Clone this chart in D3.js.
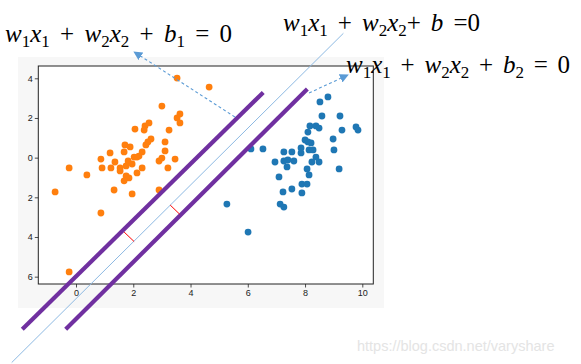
<!DOCTYPE html>
<html>
<head>
<meta charset="utf-8">
<script src="https://cdn.jsdelivr.net/npm/d3@7/dist/d3.min.js"></script>
<style>
  body { margin: 0; background: #fff; }
  svg { display: block; }
</style>
</head>
<body>
<div id="chart"></div>
<script>
// class 1 (orange) and class 2 (blue) samples
const orangeX = [3.53, 4.65, 3.00, 3.63, 3.53, 3.63, 2.06, 2.41, 2.55, 2.38, 3.25, 2.62, 2.51, 2.44, 3.11, 3.11, 1.71, 1.89, 1.19, 1.68,
                 2.31, 2.20, 2.03, 2.13, 0.87, 1.36, 1.82, 1.96, 1.75, 1.54, 1.22, 2.31, 2.90, 3.00, 3.46, 3.21, 2.13, 1.54, 0.38, 1.75,
                 1.85, 1.68, 1.33, 1.96, 2.90, -0.73, 0.87, -0.24, -0.24, 0.91];
const orangeY = [4.01, 3.56, 2.60, 2.20, 2.00, 1.75, 1.44, 1.60, 1.75, 1.39, 1.39, 0.94, 0.79, 0.64, 0.79, 0.34, 0.64, 0.54, 0.24, 0.29,
                 0.29, 0.08, 0.03, 0.03, -0.07, -0.22, -0.17, -0.32, -0.42, -0.52, -0.52, -0.52, -0.17, -0.02, -0.07, -0.52, -0.77, -0.67, -0.87, -0.92,
                 -1.02, -1.17, -1.63, -1.83, -1.63, -1.73, -2.79, -5.76, -0.52, -0.52];
const blueX = [8.52, 8.80, 8.59, 9.22, 8.17, 8.38, 8.49, 9.29, 9.78, 9.85, 8.10, 8.98, 8.00, 8.10, 8.21, 7.86, 8.14, 8.28, 9.01, 7.86,
               6.11, 6.53, 7.26, 7.54, 8.38, 7.26, 7.40, 7.61, 6.95, 8.24, 8.49, 7.37, 8.07, 9.19, 8.14, 7.09, 7.89, 8.07, 7.54, 7.23,
               7.89, 7.13, 7.26, 5.27, 6.01];
const blueY = [2.81, 3.06, 2.10, 2.10, 1.60, 1.60, 1.49, 1.39, 1.55, 1.39, 1.29, 0.94, 0.89, 0.79, 0.74, 0.49, 0.39, 0.39, 0.39, 0.24,
               0.44, 0.44, 0.29, 0.29, 0.03, -0.17, -0.12, -0.17, -0.22, -0.22, -0.22, -0.47, -0.57, -0.57, -0.87, -0.97, -1.33, -1.33, -1.58, -1.73,
               -1.78, -2.34, -2.49, -2.34, -3.75];
const xTicks = [0, 2, 4, 6, 8, 10];
const yTicks = [4, 2, 0, -2, -4, -6];

// hand drawn annotations, in data units: [x1, y1, x2, y2]
const marginLines = [[-1.876, -8.65, 6.54, 3.29], [-0.36, -8.65, 8.08, 3.46]];
const hyperplane = [-2.246, -10.33, 9.34, 6.27];
const gapMarks = [[1.68, -3.75, 2.03, -4.23], [3.29, -2.39, 3.62, -2.85]];
const arrows = [[5.55, 2.05, 2.03, 5.33], [8.14, 3.26, 9.50, 4.17]];

const W = 581, H = 364;
const svg = d3.select('#chart').append('svg').attr('width', W).attr('height', H);
svg.append('rect').attr('width', W).attr('height', H).attr('fill', '#fff');

// figure background (screenshot of the matplotlib figure)
svg.append('rect').attr('x', 18).attr('y', 57).attr('width', 366).attr('height', 251).attr('fill', '#f7f7f7');

const plot = { left: 38.3, right: 373.3, top: 66, bottom: 284 };
const x = d3.scaleLinear().domain([-1.317, 10.384]).range([plot.left, plot.right]);
const y = d3.scaleLinear().domain([4.62, -6.37]).range([plot.top, plot.bottom]);

svg.append('rect')
    .attr('x', plot.left).attr('y', plot.top)
    .attr('width', plot.right - plot.left).attr('height', plot.bottom - plot.top)
    .attr('fill', '#fff');

const pts = svg.append('g');
pts.selectAll('.o').data(orangeX.map((v, i) => [v, orangeY[i]])).join('circle')
    .attr('cx', d => x(d[0])).attr('cy', d => y(d[1])).attr('r', 3.4).attr('fill', '#ff7f0e');
pts.selectAll('.b').data(blueX.map((v, i) => [v, blueY[i]])).join('circle')
    .attr('cx', d => x(d[0])).attr('cy', d => y(d[1])).attr('r', 3.4).attr('fill', '#1f77b4');

// axes
const xAxis = d3.axisBottom(x).tickValues(xTicks).tickSize(3.5).tickPadding(2).tickFormat(d3.format('d'));
// the minus signs are missing in the original picture
const yAxis = d3.axisLeft(y).tickValues(yTicks).tickSize(3.5).tickPadding(2).tickFormat(d => Math.abs(d));
const gx = svg.append('g').attr('transform', `translate(0,${plot.bottom})`).call(xAxis);
const gy = svg.append('g').attr('transform', `translate(${plot.left},0)`).call(yAxis);
[gx, gy].forEach(g => {
    g.select('.domain').remove();
    g.selectAll('line').attr('stroke', '#222').attr('stroke-width', 0.8);
    g.selectAll('text').attr('fill', '#222').attr('font-family', 'Liberation Sans, Arial, sans-serif').attr('font-size', 9);
});
svg.append('rect')
    .attr('x', plot.left).attr('y', plot.top)
    .attr('width', plot.right - plot.left).attr('height', plot.bottom - plot.top)
    .attr('fill', 'none').attr('stroke', '#222').attr('stroke-width', 1);

// annotations
const seg = (g, s) => g.append('line')
    .attr('x1', x(s[0])).attr('y1', y(s[1])).attr('x2', x(s[2])).attr('y2', y(s[3]));

const ann = svg.append('g');
seg(ann, hyperplane).attr('stroke', '#8db9e2').attr('stroke-width', 1);
marginLines.forEach(s => seg(ann, s).attr('stroke', '#7030a0').attr('stroke-width', 4.2));
gapMarks.forEach(s => seg(ann, s).attr('stroke', '#ff0000').attr('stroke-width', 1));

svg.append('defs').append('marker')
    .attr('id', 'arr').attr('viewBox', '0 0 10 10').attr('refX', 9).attr('refY', 5)
    .attr('markerWidth', 9).attr('markerHeight', 9).attr('markerUnits', 'userSpaceOnUse')
    .attr('orient', 'auto')
    .append('path').attr('d', 'M0,0 L10,5 L0,10 Z').attr('fill', '#5b9bd5');
arrows.forEach(s => seg(ann, s)
    .attr('stroke', '#5b9bd5').attr('stroke-width', 1.1).attr('stroke-dasharray', '3,2.5')
    .attr('marker-end', 'url(#arr)'));

// formulas
const FS = 25, SUB = 17;
function formula(x0, base, parts, width) {
    const t = svg.append('text').attr('x', x0).attr('y', base)
        .attr('font-family', 'Liberation Serif, Times New Roman, serif').attr('font-size', FS).attr('fill', '#000')
        .style('white-space', 'pre');
    let shift = 0;
    parts.forEach(p => {
        const [s, k] = p;
        const dy = (k === 's' ? 5 : 0) - shift;
        shift = k === 's' ? 5 : 0;
        t.append('tspan').text(s).attr('dy', dy)
            .attr('font-style', k === 'i' ? 'italic' : 'normal')
            .attr('font-size', k === 's' ? SUB : FS);
    });
    const bw = t.node().getBBox().width;
    const nSp = parts.map(p => p[0]).join('').split(' ').length - 1;
    if (nSp > 0) t.attr('word-spacing', (width - bw) / nSp);
}
formula(5, 42, [['w', 'i'], ['1', 's'], ['x', 'i'], ['1', 's'], [' + ', 'n'], ['w', 'i'], ['2', 's'], ['x', 'i'], ['2', 's'],
                [' + ', 'n'], ['b', 'i'], ['1', 's'], [' = 0', 'n']], 227);
formula(283, 31, [['w', 'i'], ['1', 's'], ['x', 'i'], ['1', 's'], [' + ', 'n'], ['w', 'i'], ['2', 's'], ['x', 'i'], ['2', 's'],
                  ['+ ', 'n'], ['b', 'i'], [' =0', 'n']], 197);
formula(346, 73, [['w', 'i'], ['1', 's'], ['x', 'i'], ['1', 's'], [' + ', 'n'], ['w', 'i'], ['2', 's'], ['x', 'i'], ['2', 's'],
                  [' + ', 'n'], ['b', 'i'], ['2', 's'], [' = 0', 'n']], 224);

// watermark
svg.append('text').attr('x', 357).attr('y', 351)
    .attr('font-family', 'Liberation Sans, Arial, sans-serif').attr('font-size', 14.5)
    .attr('fill', '#e4e4e4').text('https://blog.csdn.net/varyshare');
</script>
</body>
</html>
